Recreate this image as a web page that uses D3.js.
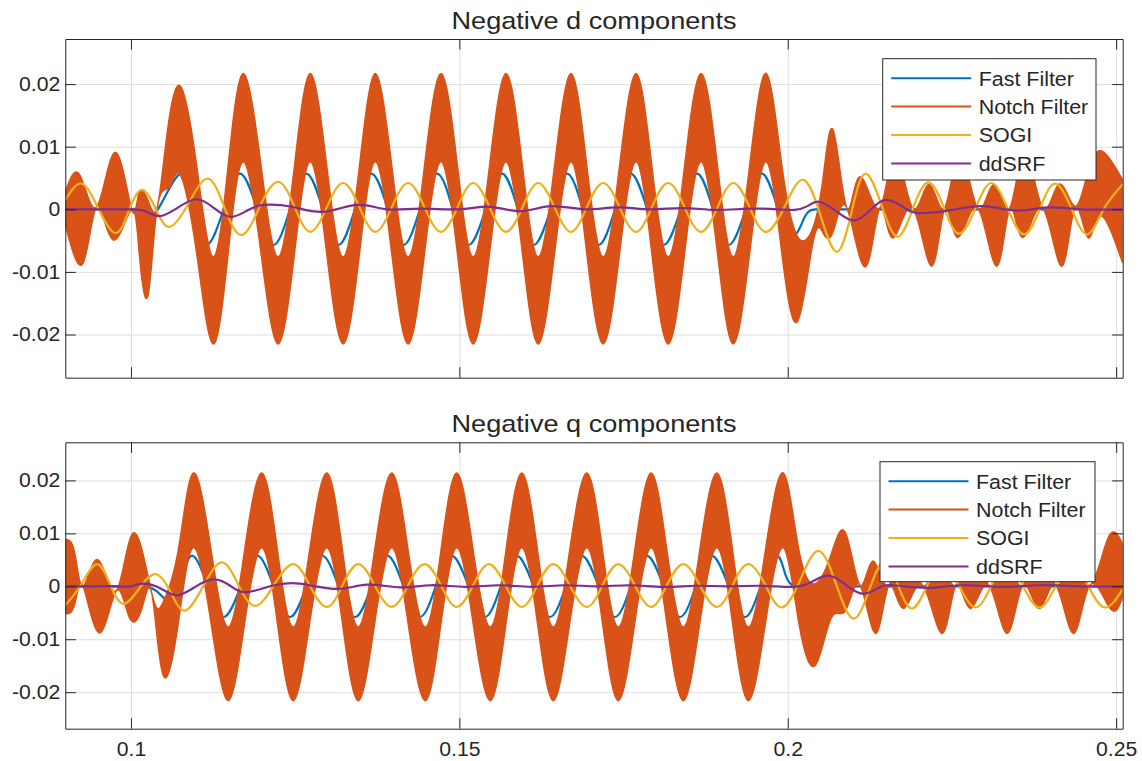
<!DOCTYPE html>
<html lang="en">
<head>
<meta charset="UTF-8">
<title>Negative d and q components</title>
<style>
  body { margin: 0; background: #fff; }
  svg text { font-family: 'Liberation Sans', Arial, Helvetica, sans-serif; fill: #262626; }
</style>
</head>
<body>
<div id="chart"></div>
<script src="https://d3js.org/d3.v7.min.js"></script>
<script>
const seriesNames = ["Fast Filter", "Notch Filter", "SOGI", "ddSRF"];
const seriesColors = ["#0072BD", "#D95319", "#EDB120", "#7E2F8E"];
const xTicks = [0.1, 0.15, 0.2, 0.25];
const yTicks = [-0.02, -0.01, 0, 0.01, 0.02];
const panelTitles = ["Negative d components", "Negative q components"];

// ---- d component, [time s, value] knots ----
const dFast = [[0.0900,0],[0.0925,0],[0.0950,0],[0.0975,0],[0.1000,0],[0.1022,0],[0.1041,0],
  [0.1075,0.0057],[0.1095,0],[0.1115,-0.0057],[0.1141,0],[0.1166,0.0057],[0.1192,0],[0.1217,-0.0057],
  [0.1242,0],[0.1267,0.0057],[0.1292,0],[0.1316,-0.0057],[0.1341,0],[0.1366,0.0057],[0.1391,0],
  [0.1415,-0.0057],[0.1440,0],[0.1466,0.0057],[0.1490,0],[0.1514,-0.0057],[0.1540,0],[0.1565,0.0057],
  [0.1589,0],[0.1613,-0.0057],[0.1639,0],[0.1664,0.0057],[0.1688,0],[0.1712,-0.0057],[0.1737,0],
  [0.1761,0.0057],[0.1786,0],[0.1811,-0.0057],[0.1837,0],[0.1862,0.0057],[0.1886,0],[0.1910,-0.0057],
  [0.1936,0],[0.1961,0.0057],[0.1985,0.0002],[0.2009,-0.0041],[0.2026,-0.0012],[0.2042,0],[0.2065,0],
  [0.2100,0],[0.2150,0],[0.2200,0],[0.2300,0],[0.2400,0],[0.2510,0]];

const dNotchUpper = [[0.0900,0.0028],[0.0922,0.0055],[0.0948,0.0004],[0.0976,0.0091],[0.1001,0.0000],
  [0.1012,0.0025],[0.1026,0.0014],[0.1040,0.0003],[0.1055,0.0121],[0.1075,0.0197],
  [0.1100,0.0070],[0.1125,-0.0076],[0.1148,0.0070],[0.1171,0.0217],[0.1198,0.0070],[0.1224,-0.0076],
  [0.1249,0.0070],[0.1273,0.0217],[0.1298,0.0070],[0.1323,-0.0076],[0.1348,0.0070],[0.1372,0.0217],
  [0.1397,0.0070],[0.1422,-0.0076],[0.1447,0.0070],[0.1472,0.0217],[0.1497,0.0070],[0.1521,-0.0076],
  [0.1546,0.0070],[0.1571,0.0217],[0.1596,0.0070],[0.1620,-0.0076],[0.1645,0.0070],[0.1670,0.0217],
  [0.1694,0.0070],[0.1719,-0.0076],[0.1744,0.0070],[0.1769,0.0217],[0.1793,0.0070],[0.1818,-0.0076],
  [0.1843,0.0070],[0.1868,0.0217],[0.1893,0.0070],[0.1917,-0.0076],[0.1942,0.0070],[0.1967,0.0217],
  [0.1991,0.0070],[0.2015,-0.0044],[0.2039,-0.0028],[0.2055,0.0060],[0.2070,0.0124],[0.2090,0.0002],
  [0.2110,0.0052],[0.2140,0.0002],[0.2163,0.0092],[0.2190,0.0002],[0.2215,0.0040],[0.2239,0.0002],
  [0.2262,0.0092],[0.2289,0.0002],[0.2314,0.0040],[0.2338,0.0002],[0.2361,0.0092],[0.2388,0.0002],
  [0.2413,0.0040],[0.2437,0.0005],[0.2457,0.0060],[0.2478,0.0093],[0.2510,0.0047]];

const dNotchLower = [[0.0900,-0.0025],[0.0927,-0.0086],[0.0948,0.0004],[0.0973,-0.0049],[0.1001,0.0000],
  [0.1013,-0.0075],[0.1026,-0.0137],[0.1040,0.0003],[0.1058,0.0035],[0.1075,0.0055],
  [0.1100,-0.0070],[0.1125,-0.0215],[0.1148,-0.0070],[0.1171,0.0076],[0.1198,-0.0070],[0.1224,-0.0215],
  [0.1249,-0.0070],[0.1273,0.0076],[0.1298,-0.0070],[0.1323,-0.0215],[0.1348,-0.0070],[0.1372,0.0076],
  [0.1397,-0.0070],[0.1422,-0.0215],[0.1447,-0.0070],[0.1472,0.0076],[0.1497,-0.0070],[0.1521,-0.0215],
  [0.1546,-0.0070],[0.1571,0.0076],[0.1596,-0.0070],[0.1620,-0.0215],[0.1645,-0.0070],[0.1670,0.0076],
  [0.1694,-0.0070],[0.1719,-0.0215],[0.1744,-0.0070],[0.1769,0.0076],[0.1793,-0.0070],[0.1818,-0.0215],
  [0.1843,-0.0070],[0.1868,0.0076],[0.1893,-0.0070],[0.1917,-0.0215],[0.1942,-0.0070],[0.1967,0.0076],
  [0.1991,-0.0070],[0.2015,-0.0179],[0.2039,-0.0050],[0.2055,-0.0040],[0.2070,-0.0033],[0.2090,0.0002],
  [0.2118,-0.0092],[0.2140,0.0002],[0.2160,-0.0046],[0.2190,0.0002],[0.2219,-0.0091],[0.2239,0.0002],
  [0.2259,-0.0045],[0.2289,0.0002],[0.2318,-0.0091],[0.2338,0.0002],[0.2358,-0.0045],[0.2388,0.0002],
  [0.2417,-0.0091],[0.2437,0.0002],[0.2457,-0.0045],[0.2476,-0.0010],[0.2510,-0.0086]];

const dSogi = [[0.0900,0.0015],[0.0925,0.0041],[0.0950,0.0002],[0.0976,-0.0038],[0.0996,-0.0004],
  [0.1016,0.0031],[0.1037,0.0002],[0.1059,-0.0028],[0.1088,0.0010],[0.1117,0.0049],[0.1142,0.0004],
  [0.1168,-0.0041],[0.1196,0.0004],[0.1224,0.0044],[0.1249,0.0004],[0.1273,-0.0036],[0.1298,0.0003],
  [0.1323,0.0042],[0.1348,0.0003],[0.1372,-0.0036],[0.1397,0.0003],[0.1422,0.0042],[0.1447,0.0003],
  [0.1472,-0.0036],[0.1497,0.0003],[0.1521,0.0042],[0.1546,0.0003],[0.1571,-0.0036],[0.1596,0.0003],
  [0.1620,0.0042],[0.1645,0.0003],[0.1670,-0.0036],[0.1694,0.0003],[0.1719,0.0042],[0.1744,0.0003],
  [0.1769,-0.0036],[0.1793,0.0003],[0.1818,0.0042],[0.1843,0.0003],[0.1868,-0.0036],[0.1893,0.0003],
  [0.1917,0.0042],[0.1942,0.0003],[0.1967,-0.0036],[0.1996,0.0006],[0.2024,0.0047],[0.2050,-0.0010],
  [0.2075,-0.0068],[0.2097,-0.0005],[0.2118,0.0057],[0.2143,0.0006],[0.2167,-0.0044],[0.2190,0.0000],
  [0.2214,0.0043],[0.2238,0.0002],[0.2261,-0.0039],[0.2286,0.0002],[0.2310,0.0042],[0.2335,0.0001],
  [0.2360,-0.0040],[0.2384,0.0001],[0.2407,0.0041],[0.2432,0.0001],[0.2456,-0.0040],[0.2481,0.0000],
  [0.2510,0.0040]];

const dDdsrf = [[0.0900,0],[0.0925,0],[0.0950,0],[0.0975,0],[0.1000,0],[0.1022,-0.0003],[0.1044,-0.0011],
  [0.1072,0.0003],[0.1100,0.0016],[0.1125,0.0003],[0.1151,-0.0012],[0.1177,-0.0002],[0.1202,0.0007],
  [0.1245,0.0004],[0.1293,-0.0004],[0.1344,0.0007],[0.1389,0.0000],[0.1440,0.0001],[0.1500,0.0000],
  [0.1547,0.0004],[0.1593,-0.0003],[0.1639,0.0005],[0.1690,0.0000],[0.1740,0.0003],[0.1790,0.0000],
  [0.1840,0.0002],[0.1890,-0.0001],[0.1940,0.0001],[0.1985,0.0000],[0.2010,-0.0001],[0.2030,0.0005],
  [0.2048,0.0012],[0.2075,-0.0004],[0.2101,-0.0018],[0.2125,-0.0002],[0.2149,0.0015],[0.2175,0.0004],
  [0.2200,-0.0006],[0.2250,-0.0001],[0.2298,0.0005],[0.2349,-0.0002],[0.2395,0.0003],[0.2448,0.0000],
  [0.2510,0.0000]];

// ---- q component ----
const qFast = [[0.0900,0],[0.0925,0],[0.0950,0],[0.0975,0],[0.1000,0],[0.1020,0],[0.1040,-0.0010],
  [0.1058,-0.0027],[0.1075,0.0008],[0.1093,0.0058],[0.1117,0],[0.1141,-0.0058],[0.1167,0],[0.1192,0.0058],
  [0.1217,0],[0.1242,-0.0058],[0.1267,0],[0.1291,0.0058],[0.1316,0],[0.1341,-0.0058],[0.1366,0],
  [0.1390,0.0058],[0.1415,0],[0.1440,-0.0058],[0.1464,0],[0.1488,0.0058],[0.1514,0],[0.1539,-0.0058],
  [0.1563,0],[0.1587,0.0058],[0.1613,0],[0.1638,-0.0058],[0.1662,0],[0.1686,0.0058],[0.1712,0],
  [0.1737,-0.0058],[0.1761,0],[0.1785,0.0058],[0.1811,0],[0.1836,-0.0058],[0.1860,0],[0.1884,0.0058],
  [0.1910,0],[0.1935,-0.0058],[0.1959,0],[0.1983,0.0058],[0.1997,0.0020],[0.2011,0],[0.2030,0],
  [0.2060,0],[0.2100,0],[0.2150,0],[0.2200,0],[0.2300,0],[0.2400,0],[0.2510,0]];

const qNotchUpper = [[0.0900,0.0089],[0.0914,0.0065],[0.0927,0.0000],[0.0950,0.0050],[0.0978,-0.0008],
  [0.1004,0.0101],[0.1032,-0.0015],[0.1049,-0.0030],[0.1072,0.0068],[0.1095,0.0214],
  [0.1122,0.0068],[0.1148,-0.0077],[0.1173,0.0068],[0.1199,0.0214],[0.1223,0.0068],[0.1247,-0.0077],
  [0.1272,0.0068],[0.1298,0.0214],[0.1322,0.0068],[0.1346,-0.0077],[0.1371,0.0068],[0.1397,0.0214],
  [0.1422,0.0068],[0.1448,-0.0077],[0.1472,0.0068],[0.1496,0.0214],[0.1521,0.0068],[0.1547,-0.0077],
  [0.1571,0.0068],[0.1595,0.0214],[0.1619,0.0068],[0.1643,-0.0077],[0.1668,0.0068],[0.1694,0.0214],
  [0.1718,0.0068],[0.1742,-0.0077],[0.1767,0.0068],[0.1792,0.0214],[0.1816,0.0068],[0.1841,-0.0077],
  [0.1866,0.0068],[0.1892,0.0214],[0.1916,0.0068],[0.1940,-0.0077],[0.1966,0.0068],[0.1993,0.0214],
  [0.2017,0.0068],[0.2042,0.0005],[0.2066,0.0060],[0.2088,0.0101],[0.2110,0.0002],[0.2130,0.0048],
  [0.2154,0.0002],[0.2178,0.0093],[0.2205,0.0002],[0.2231,0.0048],[0.2256,0.0002],[0.2281,0.0093],
  [0.2306,0.0002],[0.2331,0.0048],[0.2358,0.0002],[0.2384,0.0093],[0.2408,0.0002],[0.2432,0.0048],
  [0.2460,0.0002],[0.2488,0.0092],[0.2510,0.0080]];

const qNotchLower = [[0.0900,-0.0052],[0.0914,-0.0035],[0.0927,0.0000],[0.0952,-0.0088],[0.0978,-0.0008],
  [0.0998,-0.0060],[0.1017,-0.0040],[0.1032,-0.0015],[0.1049,-0.0168],[0.1072,-0.0070],[0.1095,0.0073],
  [0.1122,-0.0070],[0.1148,-0.0216],[0.1173,-0.0070],[0.1199,0.0073],[0.1223,-0.0070],[0.1247,-0.0216],
  [0.1272,-0.0070],[0.1298,0.0073],[0.1322,-0.0070],[0.1346,-0.0216],[0.1371,-0.0070],[0.1397,0.0073],
  [0.1422,-0.0070],[0.1448,-0.0216],[0.1472,-0.0070],[0.1496,0.0073],[0.1521,-0.0070],[0.1547,-0.0216],
  [0.1571,-0.0070],[0.1595,0.0073],[0.1619,-0.0070],[0.1643,-0.0216],[0.1668,-0.0070],[0.1694,0.0073],
  [0.1718,-0.0070],[0.1742,-0.0216],[0.1767,-0.0070],[0.1792,0.0073],[0.1816,-0.0070],[0.1841,-0.0216],
  [0.1866,-0.0070],[0.1892,0.0073],[0.1916,-0.0070],[0.1940,-0.0216],[0.1966,-0.0070],[0.1993,0.0073],
  [0.2017,-0.0070],[0.2042,-0.0149],[0.2066,-0.0060],[0.2088,-0.0046],[0.2110,0.0002],[0.2134,-0.0089],
  [0.2154,0.0002],[0.2176,-0.0042],[0.2205,0.0002],[0.2235,-0.0089],[0.2256,0.0002],[0.2278,-0.0042],
  [0.2306,0.0002],[0.2334,-0.0089],[0.2358,0.0002],[0.2383,-0.0042],[0.2408,0.0002],[0.2435,-0.0089],
  [0.2460,0.0002],[0.2491,-0.0042],[0.2510,-0.0020]];

const qSogi = [[0.0900,-0.0036],[0.0924,0.0003],[0.0948,0.0042],[0.0968,0.0004],[0.0988,-0.0033],
  [0.1012,-0.0005],[0.1037,0.0023],[0.1060,-0.0010],[0.1082,-0.0046],[0.1110,0.0000],[0.1138,0.0045],
  [0.1163,0.0004],[0.1189,-0.0037],[0.1218,0.0003],[0.1247,0.0042],[0.1272,0.0002],[0.1298,-0.0039],
  [0.1322,0.0002],[0.1346,0.0042],[0.1371,0.0002],[0.1397,-0.0039],[0.1422,0.0002],[0.1447,0.0042],
  [0.1472,0.0002],[0.1496,-0.0039],[0.1521,0.0002],[0.1545,0.0042],[0.1570,0.0002],[0.1595,-0.0039],
  [0.1619,0.0002],[0.1643,0.0042],[0.1668,0.0002],[0.1694,-0.0039],[0.1718,0.0002],[0.1742,0.0042],
  [0.1767,0.0002],[0.1792,-0.0039],[0.1816,0.0002],[0.1841,0.0042],[0.1866,0.0002],[0.1892,-0.0039],
  [0.1916,0.0002],[0.1940,0.0042],[0.1966,0.0002],[0.1991,-0.0040],[0.2019,0.0012],[0.2047,0.0067],
  [0.2074,0.0003],[0.2100,-0.0061],[0.2124,-0.0007],[0.2147,0.0047],[0.2168,0.0002],[0.2189,-0.0042],
  [0.2212,0.0000],[0.2236,0.0042],[0.2261,0.0001],[0.2286,-0.0040],[0.2310,0.0001],[0.2334,0.0041],
  [0.2358,0.0001],[0.2383,-0.0040],[0.2408,0.0000],[0.2434,0.0040],[0.2458,0.0000],[0.2483,-0.0040],
  [0.2510,-0.0006]];

const qDdsrf = [[0.0900,0],[0.0925,0],[0.0950,0],[0.0975,0],[0.1000,0],[0.1019,0.0005],[0.1045,-0.0004],
  [0.1070,-0.0017],[0.1098,-0.0001],[0.1125,0.0013],[0.1150,0.0002],[0.1174,-0.0011],[0.1215,0.0001],
  [0.1257,0.0005],[0.1313,-0.0005],[0.1359,0.0003],[0.1410,-0.0002],[0.1456,0.0002],[0.1510,-0.0001],
  [0.1560,0.0002],[0.1610,-0.0001],[0.1660,0.0002],[0.1710,0.0000],[0.1760,0.0002],[0.1810,-0.0001],
  [0.1860,0.0001],[0.1910,0.0000],[0.1960,0.0001],[0.2009,-0.0001],[0.2036,0.0008],[0.2062,0.0020],
  [0.2088,0.0003],[0.2113,-0.0014],[0.2137,-0.0004],[0.2160,0.0002],[0.2212,-0.0003],[0.2263,0.0002],
  [0.2324,-0.0001],[0.2385,0.0002],[0.2446,0.0000],[0.2510,0.0000]];

const width = 1142, height = 761;
const left = 65.3, right = 1122.7;
const fontFamily = "'Liberation Sans', Arial, Helvetica, sans-serif";

const panels = [
  { title: panelTitles[0], top: 39, bottom: 377.7, titleY: 29, xLabels: false,
    fast: dFast, upper: dNotchUpper, lower: dNotchLower, sogi: dSogi, ddsrf: dDdsrf,
    legend: { x: 882.7, y: 58.7, w: 213.3, h: 121.3 } },
  { title: panelTitles[1], top: 442.3, bottom: 728.7, titleY: 431.5, xLabels: true,
    fast: qFast, upper: qNotchUpper, lower: qNotchLower, sogi: qSogi, ddsrf: qDdsrf,
    legend: { x: 880, y: 461.7, w: 215, h: 120 } }
];

// the source font runs a little wider than Liberation Sans
function widen(sel, k) {
  sel.each(function () {
    const len = this.getComputedTextLength();
    if (len > 0) d3.select(this).attr("textLength", len * k).attr("lengthAdjust", "spacingAndGlyphs");
  });
}

const svg = d3.select("#chart").append("svg")
  .attr("width", width).attr("height", height)
  .style("background", "#fff");

const x = d3.scaleLinear().domain([0.09, 0.251]).range([left, right]);

panels.forEach((p, i) => {
  const y = d3.scaleLinear().domain([-0.0269, 0.0272]).range([p.bottom, p.top]);
  const g = svg.append("g");

  // grid
  g.append("g")
    .attr("transform", `translate(0,${p.bottom})`)
    .call(d3.axisBottom(x).tickValues(xTicks).tickSize(-(p.bottom - p.top)).tickFormat(""))
    .call(a => a.select(".domain").remove())
    .call(a => a.selectAll("line").attr("stroke", "#dedede"));
  g.append("g")
    .attr("transform", `translate(${left},0)`)
    .call(d3.axisLeft(y).tickValues(yTicks).tickSize(-(right - left)).tickFormat(""))
    .call(a => a.select(".domain").remove())
    .call(a => a.selectAll("line").attr("stroke", "#dedede"));

  // data
  svg.append("clipPath").attr("id", "clip" + i)
    .append("rect").attr("x", left).attr("y", p.top)
    .attr("width", right - left).attr("height", p.bottom - p.top);
  const plot = g.append("g").attr("clip-path", `url(#clip${i})`);

  const line = d3.line().x(d => x(d[0])).y(d => y(d[1])).curve(d3.curveNatural);

  plot.append("path").attr("d", line(p.fast))
    .attr("fill", "none").attr("stroke", seriesColors[0]).attr("stroke-width", 2.2);

  const band = line(p.upper) + "L" + line(p.lower.slice().reverse()).slice(1) + "Z";
  plot.append("path").attr("d", band)
    .attr("fill", seriesColors[1]).attr("stroke", seriesColors[1]).attr("stroke-width", 1.5);

  plot.append("path").attr("d", line(p.sogi))
    .attr("fill", "none").attr("stroke", seriesColors[2]).attr("stroke-width", 2.2);
  plot.append("path").attr("d", line(p.ddsrf))
    .attr("fill", "none").attr("stroke", seriesColors[3]).attr("stroke-width", 2.2);

  // axes (ticks pointing inward, box all round)
  const tick = 10.5;
  const styleAxis = a => {
    a.selectAll("path, line").attr("stroke", "#262626");
    a.selectAll("text").attr("font-size", 20).attr("fill", "#262626")
      .attr("font-family", fontFamily).call(widen, 1.06);
  };
  g.append("g").attr("transform", `translate(${left},0)`)
    .call(d3.axisLeft(y).tickValues(yTicks).tickSizeInner(-tick).tickSizeOuter(0).tickPadding(5)
      .tickFormat(v => String(v)))
    .call(styleAxis);
  g.append("g").attr("transform", `translate(${right},0)`)
    .call(d3.axisRight(y).tickValues(yTicks).tickSizeInner(-tick).tickSizeOuter(0).tickFormat(""))
    .call(styleAxis);
  g.append("g").attr("transform", `translate(0,${p.top})`)
    .call(d3.axisTop(x).tickValues(xTicks).tickSizeInner(-tick).tickSizeOuter(0).tickFormat(""))
    .call(styleAxis);
  g.append("g").attr("transform", `translate(0,${p.bottom})`)
    .call(d3.axisBottom(x).tickValues(xTicks).tickSizeInner(-tick).tickSizeOuter(0).tickPadding(13)
      .tickFormat(p.xLabels ? (v => String(v)) : ""))
    .call(styleAxis);

  // title
  g.append("text")
    .attr("x", (left + right) / 2).attr("y", p.titleY)
    .attr("text-anchor", "middle").attr("font-size", 24.8)
    .text(p.title)
    .call(widen, 1.094);

  // legend
  const lg = g.append("g").attr("transform", `translate(${p.legend.x},${p.legend.y})`);
  lg.append("rect").attr("width", p.legend.w).attr("height", p.legend.h)
    .attr("fill", "#fff").attr("stroke", "#262626").attr("stroke-width", 1);
  seriesNames.forEach((name, k) => {
    const cy = 19.5 + k * 28.4;
    lg.append("line").attr("x1", 8.5).attr("x2", 88.5).attr("y1", cy).attr("y2", cy)
      .attr("stroke", seriesColors[k]).attr("stroke-width", 2);
    lg.append("text").attr("x", 96).attr("y", cy + 7.5)
      .attr("font-size", 20.5).text(name)
      .call(widen, 1.045);
  });
});
</script>
</body>
</html>
